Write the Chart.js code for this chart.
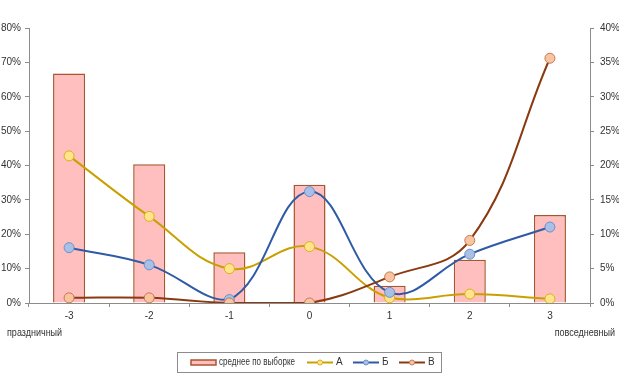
<!DOCTYPE html>
<html>
<head>
<meta charset="utf-8">
<script src="https://cdn.jsdelivr.net/npm/chart.js@4"></script>
<style>
    html, body { margin: 0; padding: 0; background: #fff; }
    #wrap { position: relative; width: 619px; height: 380px; }
    .note { position: absolute; font: 10px "Liberation Sans", Arial, sans-serif; color: #333; }
</style>
</head>
<body>
<div id="wrap">
    <canvas id="chart" width="619" height="380"></canvas>
    <div class="note" style="left:7px; top:327px; transform: scaleX(0.9); transform-origin: left;">праздничный</div>
    <div class="note" style="right:4px; top:327px; transform: scaleX(0.9); transform-origin: right;">повседневный</div>
</div>
<script>
// categories (scale from holiday to everyday)
const categories = ['-3', '-2', '-1', '0', '1', '2', '3'];

// bars, right axis (%)
const sampleMean = [33.4, 20.2, 7.4, 17.2, 2.5, 6.3, 12.8];

// lines, left axis (%)
const seriesA = [42.8, 25.2, 10.0, 16.4, 1.5, 2.6, 1.2];
const seriesB = [16.1, 11.1, 1.0, 32.4, 3.1, 14.2, 22.1];
const seriesV = [1.5, 1.5, 0, 0, 7.6, 18.2, 71.2];

const leftTicks = { min: 0, max: 80, step: 10 };
const rightTicks = { min: 0, max: 40, step: 5 };

const fontFamily = '"Liberation Sans", Arial, sans-serif';
const font = { family: fontFamily, size: 10 };
const axisColor = '#8c8c8c';
const textColor = '#333';

function lineSet(label, data, color, fill, border, order) {
    return {
        type: 'line',
        label: label,
        data: data,
        yAxisID: 'y',
        borderColor: color,
        borderWidth: 2,
        tension: 0.4,
        pointRadius: 5,
        pointBackgroundColor: fill,
        pointBorderColor: border,
        pointBorderWidth: 1,
        order: order
    };
}

// legend drawn in a framed box under the plot
const frameLegend = {
    id: 'frameLegend',
    afterDraw(chart) {
        const ctx = chart.ctx;
        const ds = chart.data.datasets;
        ctx.save();
        ctx.strokeStyle = '#8c8c8c';
        ctx.lineWidth = 1;
        ctx.strokeRect(177.5, 352.5, 264, 20);

        const cy = 362.5;
        ctx.font = '10px ' + fontFamily;
        ctx.textBaseline = 'middle';

        // bar swatch
        ctx.fillStyle = ds[0].backgroundColor;
        ctx.fillRect(191, 360, 25, 5);
        ctx.strokeStyle = ds[0].borderColor;
        ctx.lineWidth = 1.5;
        ctx.strokeRect(191, 360, 25, 5);
        ctx.fillStyle = textColor;
        ctx.fillText(ds[0].label, 219, cy, 76);

        const spots = [307, 353, 399];
        for (let i = 1; i < ds.length; i++) {
            const x = spots[i - 1];
            ctx.strokeStyle = ds[i].borderColor;
            ctx.lineWidth = 2;
            ctx.beginPath();
            ctx.moveTo(x, cy);
            ctx.lineTo(x + 26, cy);
            ctx.stroke();
            ctx.beginPath();
            ctx.arc(x + 13, cy, 2.5, 0, Math.PI * 2);
            ctx.fillStyle = ds[i].pointBackgroundColor;
            ctx.fill();
            ctx.lineWidth = 1;
            ctx.strokeStyle = ds[i].pointBorderColor;
            ctx.stroke();
            ctx.fillStyle = textColor;
            ctx.fillText(ds[i].label, x + 29, cy);
        }
        ctx.restore();
    }
};

new Chart('chart', {
    data: {
        labels: categories,
        datasets: [
            {
                type: 'bar',
                label: 'среднее по выборке',
                data: sampleMean,
                yAxisID: 'y1',
                backgroundColor: '#ffbfbf',
                borderColor: '#a9552f',
                borderWidth: 1.5,
                barPercentage: 0.4,
                categoryPercentage: 1,
                order: 10
            },
            lineSet('А', seriesA, '#c9a000', '#ffe48c', '#d8b020', 3),
            lineSet('Б', seriesB, '#2f5aa6', '#a8bfe6', '#6f8fc8', 2),
            lineSet('В', seriesV, '#8a3a10', '#f8c4a2', '#c47a50', 1)
        ]
    },
    options: {
        responsive: false,
        animation: false,
        layout: { padding: { top: 28, bottom: 57, left: 0, right: 0 } },
        plugins: {
            legend: { display: false },
            tooltip: { enabled: false }
        },
        scales: {
            x: {
                offset: true,
                grid: { display: true, drawOnChartArea: false, offset: true, tickLength: 4, color: axisColor },
                border: { color: axisColor },
                ticks: { font: font, color: textColor, padding: 3, maxRotation: 0 },
                afterFit(scale) { scale.height = 20; }
            },
            y: {
                position: 'left',
                min: leftTicks.min,
                max: leftTicks.max,
                grid: { display: true, drawOnChartArea: false, tickLength: 4, color: axisColor },
                border: { color: axisColor },
                ticks: { stepSize: leftTicks.step, font: font, color: textColor, padding: 4, callback: v => v + '%' },
                afterFit(scale) { scale.width = 29; }
            },
            y1: {
                position: 'right',
                min: rightTicks.min,
                max: rightTicks.max,
                grid: { display: true, drawOnChartArea: false, tickLength: 4, color: axisColor },
                border: { color: axisColor },
                ticks: { stepSize: rightTicks.step, font: font, color: textColor, padding: 6, callback: v => v + '%' },
                afterFit(scale) { scale.width = 29; }
            }
        }
    },
    plugins: [frameLegend]
});
</script>
</body>
</html>
